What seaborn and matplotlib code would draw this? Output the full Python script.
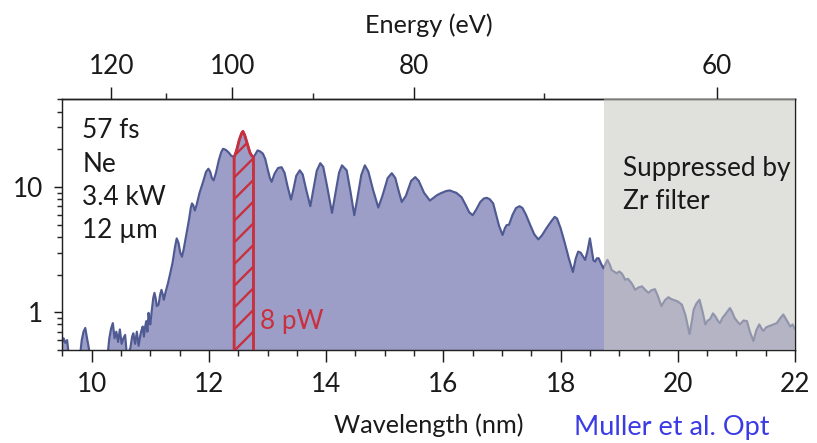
import numpy as np
import pandas as pd
import matplotlib
matplotlib.use("Agg")
import matplotlib.pyplot as plt
from matplotlib.ticker import FixedLocator, MultipleLocator, LogLocator, NullFormatter, FixedFormatter
import seaborn as sns

# ---------------- data ----------------
wavelength_nm = [
    9.50, 9.52, 9.55, 9.58, 9.61, 9.80, 9.83, 9.86, 9.89, 9.92, 9.95, 9.97,
    10.27, 10.30, 10.33, 10.36, 10.39, 10.42, 10.45, 10.48, 10.51, 10.54,
    10.57, 10.60, 10.66, 10.69, 10.71, 10.74, 10.77, 10.80, 10.83, 10.85,
    10.87, 10.89, 10.91, 10.93, 10.95, 10.97, 10.99,
    11.00, 11.02, 11.05, 11.07, 11.09, 11.11, 11.14, 11.17, 11.19, 11.21,
    11.23, 11.26, 11.30, 11.34, 11.38, 11.42, 11.45, 11.48, 11.51, 11.54,
    11.57, 11.62, 11.66, 11.69, 11.71, 11.73, 11.76, 11.79, 11.84, 11.90,
    11.95, 11.99, 12.02, 12.05, 12.08, 12.12, 12.17, 12.21, 12.24, 12.27,
    12.30, 12.34, 12.38, 12.43, 12.47, 12.52, 12.56, 12.58, 12.61, 12.65,
    12.70, 12.73, 12.76, 12.79, 12.83, 12.87, 12.92, 12.96, 13.00, 13.04,
    13.07, 13.12, 13.18, 13.24, 13.29, 13.34, 13.40, 13.44, 13.49, 13.55,
    13.60, 13.66, 13.73, 13.78, 13.84, 13.90, 13.95, 14.01, 14.10, 14.16,
    14.22, 14.27, 14.35, 14.41, 14.48, 14.53, 14.60, 14.66, 14.72, 14.80,
    14.89, 14.96, 15.05, 15.12, 15.18, 15.24, 15.29, 15.36, 15.45, 15.52,
    15.58, 15.67, 15.77, 15.83, 15.89, 15.95, 16.00, 16.05, 16.11, 16.16,
    16.22, 16.31, 16.38, 16.44, 16.50, 16.56, 16.63, 16.69, 16.74, 16.79,
    16.85, 16.90, 16.95, 17.01, 17.05, 17.08, 17.12, 17.18, 17.24, 17.30,
    17.35, 17.41, 17.48, 17.55, 17.62, 17.68, 17.76, 17.85, 17.90, 17.94,
    18.00, 18.07, 18.14, 18.21, 18.26, 18.30, 18.34, 18.38, 18.42, 18.46,
    18.50, 18.53, 18.56, 18.59, 18.62, 18.65, 18.69, 18.73, 18.77, 18.80,
    18.84, 18.87, 18.92, 18.96, 19.00, 19.04, 19.07, 19.10, 19.15, 19.21,
    19.24, 19.27, 19.33, 19.39, 19.45, 19.50, 19.55, 19.61, 19.66, 19.72,
    19.78, 19.84, 19.88, 19.92, 20.00, 20.07, 20.13, 20.20, 20.24, 20.27,
    20.32, 20.37, 20.42, 20.47, 20.51, 20.55, 20.60, 20.64, 20.68, 20.72,
    20.76, 20.80, 20.85, 20.89, 20.93, 20.97, 21.02, 21.06, 21.12, 21.18,
    21.23, 21.29, 21.34, 21.39, 21.43, 21.46, 21.51, 21.57, 21.63, 21.69,
    21.75, 21.80, 21.86, 21.92, 21.96, 22.00,
]
intensity = [
    0.58, 0.62, 0.57, 0.60, 0.45, 0.45, 0.60, 0.70, 0.75, 0.62, 0.52, 0.45,
    0.45, 0.62, 0.74, 0.82, 0.62, 0.70, 0.58, 0.73, 0.56, 0.62,
    0.66, 0.45, 0.52, 0.64, 0.68, 0.56, 0.70, 0.54, 0.66, 0.72,
    0.77, 0.64, 0.76, 0.85, 0.70, 0.99, 0.82,
    0.80, 0.99, 1.30, 1.43, 1.30, 1.12, 1.15, 1.40, 1.51, 1.40,
    1.26, 1.45, 1.70, 2.05, 2.50, 3.30, 3.89, 3.60, 3.00, 2.78,
    3.20, 4.30, 5.50, 6.80, 7.40, 7.20, 6.50, 7.20, 9.00, 11.0,
    13.2, 14.0, 13.3, 11.8, 11.3, 13.0, 16.5, 19.0, 20.2, 20.0,
    19.6, 18.8, 17.8, 17.3, 19.5, 24.0, 27.0, 27.8, 26.0, 22.5,
    18.8, 17.8, 17.3, 18.2, 19.6, 19.3, 18.5, 16.8, 14.0, 11.8,
    11.0, 12.8, 14.2, 14.4, 13.0, 10.2, 7.94, 9.5, 12.3, 13.6,
    12.6, 9.5, 7.03, 9.5, 13.5, 15.5, 14.5, 10.5, 6.22, 9.0,
    13.0, 14.9, 13.6, 9.5, 5.96, 8.0, 12.5, 14.9, 13.3, 9.5,
    6.86, 8.5, 11.8, 12.9, 11.8, 9.2, 7.6, 8.5, 11.2, 12.0,
    11.2, 9.0, 7.8, 8.2, 8.6, 8.9, 9.1, 9.3, 9.4, 9.2,
    9.0, 8.3, 7.2, 6.3, 5.96, 6.6, 7.6, 8.1, 8.2, 8.0,
    7.4, 6.0, 4.9, 4.14, 4.7, 4.97, 5.0, 6.0, 6.8, 7.03,
    6.8, 6.0, 5.0, 4.2, 3.82, 4.1, 4.7, 5.4, 5.78, 5.6,
    4.7, 3.6, 2.7, 2.1, 2.7, 3.05, 3.0, 2.8, 2.62, 3.1,
    3.89, 3.2, 2.6, 2.54, 2.7, 2.70, 2.45, 2.25, 2.45, 2.62,
    2.4, 2.18, 2.1, 2.05, 2.12, 2.05, 1.95, 1.82, 1.85, 1.71,
    1.62, 1.51, 1.58, 1.61, 1.50, 1.43, 1.50, 1.53, 1.35, 1.12,
    1.25, 1.32, 1.28, 1.26, 1.22, 1.15, 0.95, 0.67, 0.85, 1.05,
    1.18, 1.26, 1.02, 0.80, 0.86, 0.88, 0.98, 0.93, 0.86, 0.82,
    0.90, 0.95, 1.02, 1.08, 1.00, 0.90, 0.84, 0.80, 0.86, 0.85,
    0.70, 0.59, 0.72, 0.80, 0.74, 0.71, 0.76, 0.78, 0.80, 0.82,
    0.90, 0.96, 0.86, 0.77, 0.80, 0.73,
]
band_range_nm = [12.43, 12.76]          # hatched 8 pW band
zr_filter_range_nm = [18.74, 22.0]      # suppressed by Zr filter
wl_major_ticks = [10, 12, 14, 16, 18, 20, 22]
energy_major_ticks = [120, 100, 80, 60]
energy_minor_ticks = [110, 90, 70]
y_major_ticks = [1, 10]
y_major_labels = ["1", "10"]
info_lines = ["57 fs", "Ne", "3.4 kW", "12 \u00b5m"]
band_label = "8 pW"
zr_label = "Suppressed by\nZr filter"
HC = 1239.84  # eV nm

df = pd.DataFrame({"wl": wavelength_nm, "I": intensity})

# ---------------- style ----------------
sns.set_theme(style="ticks")
plt.rcParams["font.family"] = ["Lato", "DejaVu Sans"]
plt.rcParams["hatch.linewidth"] = 1.3
plt.rcParams["axes.linewidth"] = 0.8

fill_col = "#9c9ec7"
line_col = "#4f5a92"
red = "#c9303e"
txt = "#1a1a1a"

DPI = 130
fig = plt.figure(figsize=(817 / DPI, 443 / DPI), dpi=DPI)
ax = fig.add_axes([0.0764, 0.2099, 0.8967, 0.5655])

# spectrum
ax.fill_between(df["wl"], df["I"], 0.05, color=fill_col, linewidth=0, zorder=1)
sns.lineplot(data=df, x="wl", y="I", ax=ax, color=line_col, linewidth=1.2,
             sort=False, estimator=None, zorder=2)

# Zr filter region (grey overlay)
ax.axvspan(zr_filter_range_nm[0], zr_filter_range_nm[1], color="#c8c7c2",
           alpha=0.55, linewidth=0, zorder=3)

# hatched band
wl = df["wl"].to_numpy()
I = df["I"].to_numpy()
m = (wl >= band_range_nm[0]) & (wl <= band_range_nm[1])
ax.fill_between(wl[m], I[m], 0.05, facecolor="none", edgecolor=red,
                hatch="//", linewidth=1.6, zorder=4)

ax.set_yscale("log")
ax.set_xlim(9.5, 22)
ax.set_ylim(0.5, 50)

# x ticks
ax.xaxis.set_major_locator(FixedLocator(wl_major_ticks))
ax.xaxis.set_minor_locator(MultipleLocator(0.5))
ax.tick_params(axis="x", which="major", direction="out", length=6.6, width=0.8,
               pad=5.5, labelsize=14.5, colors=txt)
ax.tick_params(axis="x", which="minor", direction="out", length=3.3, width=0.8)

# y ticks
ax.yaxis.set_major_locator(FixedLocator(y_major_ticks))
ax.yaxis.set_major_formatter(FixedFormatter(y_major_labels))
ax.yaxis.set_minor_locator(LogLocator(base=10, subs=np.arange(2, 10)))
ax.yaxis.set_minor_formatter(NullFormatter())
ax.tick_params(axis="y", which="major", direction="out", length=4.5, width=0.8,
               pad=6, labelsize=14.5, colors=txt)
ax.tick_params(axis="y", which="minor", direction="out", length=2.8, width=0.8)
ax.tick_params(right=False, top=False, which="both")

for s in ax.spines.values():
    s.set_visible(True)
    s.set_color("#222222")
    s.set_linewidth(0.8)

ax.set_xlabel("Wavelength (nm)", fontsize=14, color=txt, labelpad=9)
ax.set_ylabel("")


# top energy axis
def wl2e(x):
    x = np.asarray(x, dtype=float)
    with np.errstate(divide="ignore", invalid="ignore"):
        return HC / x


secax = ax.secondary_xaxis("top", functions=(wl2e, wl2e))
secax.xaxis.set_major_locator(FixedLocator(energy_major_ticks))
secax.xaxis.set_minor_locator(FixedLocator(energy_minor_ticks))
secax.xaxis.set_major_formatter(FixedFormatter([str(v) for v in energy_major_ticks]))
secax.tick_params(axis="x", which="major", direction="out", length=6.6, width=0.8,
                  pad=4.5, labelsize=14.5, colors=txt)
secax.tick_params(axis="x", which="minor", direction="out", length=3.3, width=0.8)
secax.set_xlabel("Energy (eV)", fontsize=14, color=txt, labelpad=12)
secax.spines["top"].set_color("#222222")

# annotations
ax.text(0.027, 0.925, "\n".join(info_lines), transform=ax.transAxes, ha="left",
        va="top", fontsize=14.5, color=txt, linespacing=1.42, zorder=6)
ax.text(0.765, 0.775, zr_label, transform=ax.transAxes, ha="left", va="top",
        fontsize=14.5, color=txt, linespacing=1.42, zorder=6)
ax.text(12.87, 0.73, band_label, ha="left", va="baseline", fontsize=14.5,
        color=red, zorder=6)

fig.text(0.702, 0.006, "Muller et al. Opt", ha="left", va="bottom", fontsize=15,
         color="#3b3be6")

fig.savefig("out.png", dpi=DPI)
